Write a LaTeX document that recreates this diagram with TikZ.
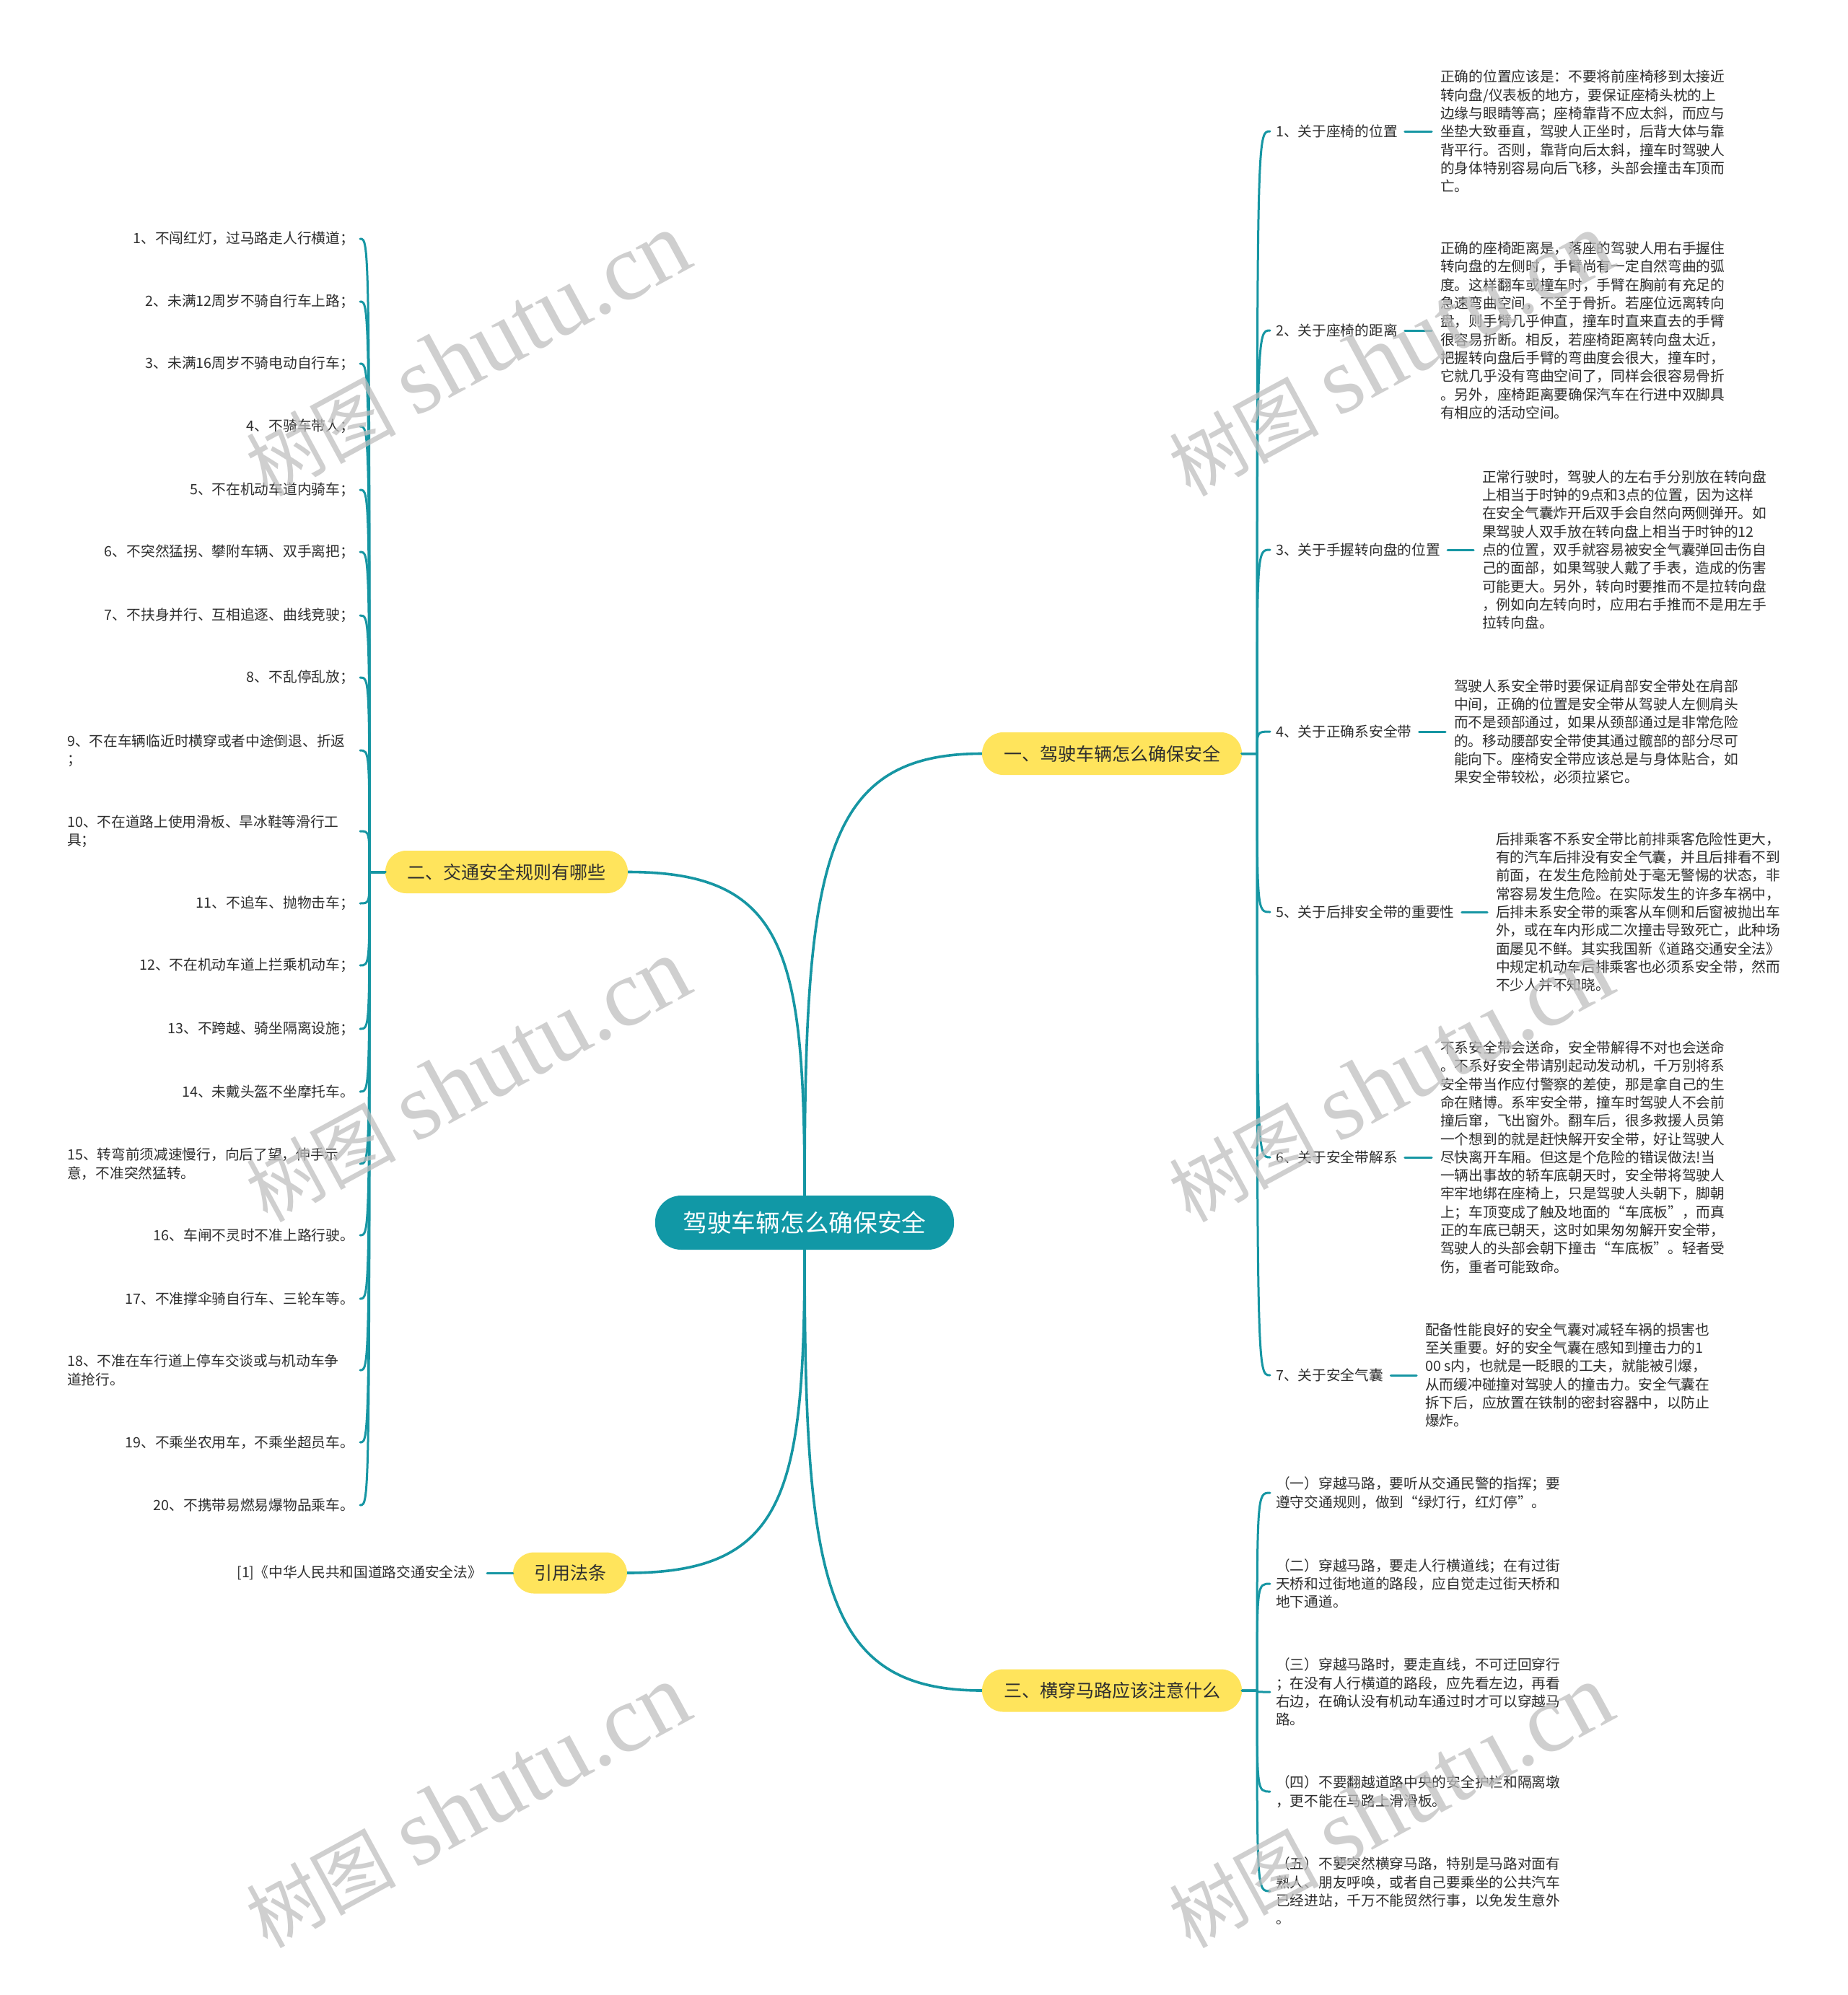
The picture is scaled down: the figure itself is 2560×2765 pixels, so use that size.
\documentclass[tikz,border=0pt]{standalone}
\usepackage{fontspec}
\setmainfont{Noto Sans CJK SC}
\newfontfamily\wmlatin{Liberation Serif}
\usetikzlibrary{calc}
\definecolor{rootfill}{HTML}{1198A6}
\definecolor{lnk}{HTML}{1696A3}
\definecolor{yel}{HTML}{FFE45C}
\definecolor{txt}{HTML}{2E2E2E}
\begin{document}
\begin{tikzpicture}[x=1pt,y=-1pt,
  conn/.style={draw=lnk,line width=3pt,line cap=round},
  mainconn/.style={draw=lnk,line width=3.6pt},
  rootnode/.style={fill=rootfill,text=white,rounded corners=36pt,minimum width=414pt,minimum height=75pt,inner sep=0pt,font=\fontsize{33.7}{40}\selectfont},
  bnode/.style={fill=yel,text=txt,rounded corners=29pt,minimum height=59pt,inner sep=0pt,font=\fontsize{25}{30}\selectfont},
  lab/.style={inner sep=0pt,text=txt,font=\fontsize{19.7}{25.3}\selectfont},
  rlab/.style={lab,anchor=west},
  desc/.style={lab,align=left,anchor=west},
  llab/.style={lab,anchor=east},
  wm/.style={anchor=base west,rotate=28.5,inner sep=0pt,text=black!25,text opacity=0.75}
]
\fill[white] (0,0) rectangle (2560,2765);
\useasboundingbox (0,0) rectangle (2560,2765);

% ---------- main nodes
\node[rootnode] (root) at (1115,1694.5) {驾驶车辆怎么确保安全};
\node[bnode,minimum width=360pt] (b1) at (1541,1044.5) {一、驾驶车辆怎么确保安全};
\node[bnode,minimum width=336pt] (b2) at (702,1208.5) {二、交通安全规则有哪些};
\node[bnode,minimum width=158pt,minimum height=57pt] (b3) at (790,2180) {引用法条};
\node[bnode,minimum width=360pt] (b4) at (1541,2343) {三、横穿马路应该注意什么};

% ---------- main connectors
\draw[mainconn] (root.north) .. controls ($(root.north)!0.75!(root.north |- b1.west)$) and ($(root.north |- b1.west)!0.1!(b1.west)$) .. (b1.west);
\draw[mainconn] (root.north) .. controls ($(root.north)!0.75!(root.north |- b2.east)$) and ($(root.north |- b2.east)!0.1!(b2.east)$) .. (b2.east);
\draw[mainconn] (root.south) .. controls ($(root.south)!0.75!(root.south |- b3.east)$) and ($(root.south |- b3.east)!0.1!(b3.east)$) .. (b3.east);
\draw[mainconn] (root.south) .. controls ($(root.south)!0.75!(root.south |- b4.west)$) and ($(root.south |- b4.west)!0.1!(b4.west)$) .. (b4.west);

% ---------- branch one: labels
\node[rlab] (c1) at (1768,182) {1、关于座椅的位置};
\node[rlab] (c2) at (1768,458) {2、关于座椅的距离};
\node[rlab] (c3) at (1768,762) {3、关于手握转向盘的位置};
\node[rlab] (c4) at (1768,1014) {4、关于正确系安全带};
\node[rlab] (c5) at (1768,1264) {5、关于后排安全带的重要性};
\node[rlab] (c6) at (1768,1604) {6、关于安全带解系};
\node[rlab] (c7) at (1768,1906) {7、关于安全气囊};

% ---------- branch one: descriptions
\node[desc] (d1) at (1996,182) {正确的位置应该是：不要将前座椅移到太接近\\%
转向盘/仪表板的地方，要保证座椅头枕的上\\%
边缘与眼睛等高；座椅靠背不应太斜，而应与\\%
坐垫大致垂直，驾驶人正坐时，后背大体与靠\\%
背平行。否则，靠背向后太斜，撞车时驾驶人\\%
的身体特别容易向后飞移，头部会撞击车顶而\\%
亡。};
\node[desc] (d2) at (1996,458) {正确的座椅距离是，落座的驾驶人用右手握住\\%
转向盘的左侧时，手臂尚有一定自然弯曲的弧\\%
度。这样翻车或撞车时，手臂在胸前有充足的\\%
急速弯曲空间，不至于骨折。若座位远离转向\\%
盘，则手臂几乎伸直，撞车时直来直去的手臂\\%
很容易折断。相反，若座椅距离转向盘太近，\\%
把握转向盘后手臂的弯曲度会很大，撞车时，\\%
它就几乎没有弯曲空间了，同样会很容易骨折\\%
。另外，座椅距离要确保汽车在行进中双脚具\\%
有相应的活动空间。};
\node[desc] (d3) at (2054,762) {正常行驶时，驾驶人的左右手分别放在转向盘\\%
上相当于时钟的9点和3点的位置，因为这样\\%
在安全气囊炸开后双手会自然向两侧弹开。如\\%
果驾驶人双手放在转向盘上相当于时钟的12\\%
点的位置，双手就容易被安全气囊弹回击伤自\\%
己的面部，如果驾驶人戴了手表，造成的伤害\\%
可能更大。另外，转向时要推而不是拉转向盘\\%
，例如向左转向时，应用右手推而不是用左手\\%
拉转向盘。};
\node[desc] (d4) at (2015,1014) {驾驶人系安全带时要保证肩部安全带处在肩部\\%
中间，正确的位置是安全带从驾驶人左侧肩头\\%
而不是颈部通过，如果从颈部通过是非常危险\\%
的。移动腰部安全带使其通过髋部的部分尽可\\%
能向下。座椅安全带应该总是与身体贴合，如\\%
果安全带较松，必须拉紧它。};
\node[desc] (d5) at (2073,1264) {后排乘客不系安全带比前排乘客危险性更大，\\%
有的汽车后排没有安全气囊，并且后排看不到\\%
前面，在发生危险前处于毫无警惕的状态，非\\%
常容易发生危险。在实际发生的许多车祸中，\\%
后排未系安全带的乘客从车侧和后窗被抛出车\\%
外，或在车内形成二次撞击导致死亡，此种场\\%
面屡见不鲜。其实我国新《道路交通安全法》\\%
中规定机动车后排乘客也必须系安全带，然而\\%
不少人并不知晓。};
\node[desc] (d6) at (1996,1604) {不系安全带会送命，安全带解得不对也会送命\\%
。不系好安全带请别起动发动机，千万别将系\\%
安全带当作应付警察的差使，那是拿自己的生\\%
命在赌博。系牢安全带，撞车时驾驶人不会前\\%
撞后窜，飞出窗外。翻车后，很多救援人员第\\%
一个想到的就是赶快解开安全带，好让驾驶人\\%
尽快离开车厢。但这是个危险的错误做法!当\\%
一辆出事故的轿车底朝天时，安全带将驾驶人\\%
牢牢地绑在座椅上，只是驾驶人头朝下，脚朝\\%
上；车顶变成了触及地面的“车底板”，而真\\%
正的车底已朝天，这时如果匆匆解开安全带，\\%
驾驶人的头部会朝下撞击“车底板”。轻者受\\%
伤，重者可能致命。};
\node[desc] (d7) at (1975,1906) {配备性能良好的安全气囊对减轻车祸的损害也\\%
至关重要。好的安全气囊在感知到撞击力的1\\%
00 s内，也就是一眨眼的工夫，就能被引爆，\\%
从而缓冲碰撞对驾驶人的撞击力。安全气囊在\\%
拆下后，应放置在铁制的密封容器中，以防止\\%
爆炸。};

% ---------- branch one connectors
\coordinate (t1) at (1742,1044.5);
\foreach \n in {c1,c2,c3,c4,c5,c6,c7}{
  \draw[conn] (b1.east) -- (t1) .. controls (t1 |- \n.west) and (t1 |- \n.west) .. ([xshift=-8pt]\n.west);
}
\foreach \a/\b in {c1/d1,c2/d2,c3/d3,c4/d4,c5/d5,c6/d6,c7/d7}{
  \draw[conn] ([xshift=10pt]\a.east) -- ([xshift=-12pt]\a.east -| \b.west);
}

% ---------- branch three
\node[desc] (p1) at (1768,2069) {（一）穿越马路，要听从交通民警的指挥；要\\%
遵守交通规则，做到“绿灯行，红灯停”。};
\node[desc] (p2) at (1768,2195) {（二）穿越马路，要走人行横道线；在有过街\\%
天桥和过街地道的路段，应自觉走过街天桥和\\%
地下通道。};
\node[desc] (p3) at (1768,2345) {（三）穿越马路时，要走直线，不可迂回穿行\\%
；在没有人行横道的路段，应先看左边，再看\\%
右边，在确认没有机动车通过时才可以穿越马\\%
路。};
\node[desc] (p4) at (1768,2483) {（四）不要翻越道路中央的安全护栏和隔离墩\\%
，更不能在马路上滑滑板。};
\node[desc] (p5) at (1768,2621) {（五）不要突然横穿马路，特别是马路对面有\\%
熟人、朋友呼唤，或者自己要乘坐的公共汽车\\%
已经进站，千万不能贸然行事，以免发生意外\\%
。};
\coordinate (t4) at (1742,2343);
\foreach \n in {p1,p2,p3,p4,p5}{
  \draw[conn] (b4.east) -- (t4) .. controls (t4 |- \n.west) and (t4 |- \n.west) .. ([xshift=-8pt]\n.west);
}

% ---------- branch two
\node[llab] (l1) at (491,331) {1、不闯红灯，过马路走人行横道；};
\node[llab] (l2) at (491,418) {2、未满12周岁不骑自行车上路；};
\node[llab] (l3) at (491,504) {3、未满16周岁不骑电动自行车；};
\node[llab] (l4) at (491,591) {4、不骑车带人；};
\node[llab] (l5) at (491,679) {5、不在机动车道内骑车；};
\node[llab] (l6) at (491,765) {6、不突然猛拐、攀附车辆、双手离把；};
\node[llab] (l7) at (491,853) {7、不扶身并行、互相追逐、曲线竞驶；};
\node[llab] (l8) at (491,939) {8、不乱停乱放；};
\node[desc] (l9) at (93,1040) {9、不在车辆临近时横穿或者中途倒退、折返\\%
；};
\node[desc] (l10) at (93,1152) {10、不在道路上使用滑板、旱冰鞋等滑行工\\%
具；};
\node[llab] (l11) at (491,1252) {11、不追车、抛物击车；};
\node[llab] (l12) at (491,1338) {12、不在机动车道上拦乘机动车；};
\node[llab] (l13) at (491,1426) {13、不跨越、骑坐隔离设施；};
\node[llab] (l14) at (491,1513) {14、未戴头盔不坐摩托车。};
\node[desc] (l15) at (93,1613) {15、转弯前须减速慢行，向后了望，伸手示\\%
意，不准突然猛转。};
\node[llab] (l16) at (491,1712) {16、车闸不灵时不准上路行驶。};
\node[llab] (l17) at (491,1800) {17、不准撑伞骑自行车、三轮车等。};
\node[desc] (l18) at (93,1899) {18、不准在车行道上停车交谈或与机动车争\\%
道抢行。};
\node[llab] (l19) at (491,1999) {19、不乘坐农用车，不乘坐超员车。};
\node[llab] (l20) at (491,2086) {20、不携带易燃易爆物品乘车。};

\coordinate (t2) at (512,1208.5);
\foreach \n in {l1,l2,l3,l4,l5,l6,l7,l8,l9,l10,l11,l12,l13,l14,l15,l16,l17,l18,l19,l20}{
  \coordinate (e\n) at (499,0 |- \n.center);
  \draw[conn] (b2.west) -- (t2) .. controls (t2 |- e\n) and (t2 |- e\n) .. (e\n);
}

% ---------- citation
\node[llab] (cite) at (668,2180) {[1]《中华人民共和国道路交通安全法》};
\draw[conn] ([xshift=7pt]cite.east) -- (cite.east -| b3.west);

% ---------- watermarks
\foreach \wx/\wy [count=\i] in {370/690,370/1696,370/2702,1649/690,1649/1696,1649/2702}{
  \node[wm] (wm\i) at (\wx,\wy) {\fontsize{104}{104}\selectfont 树图\hspace{26pt}{\wmlatin\fontsize{132}{132}\selectfont shutu.cn}};
}
\end{tikzpicture}
\end{document}
